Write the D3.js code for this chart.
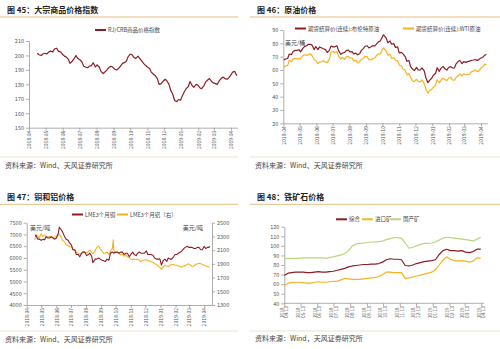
<!DOCTYPE html>
<html><head><meta charset="utf-8">
<script src="https://cdn.jsdelivr.net/npm/d3@7"></script>
<style>
body{margin:0;background:#fff;}
svg{display:block;font-family:"Noto Sans CJK SC","Noto Sans",sans-serif;}
</style></head><body>
<svg id="c" width="500" height="349"></svg>
<script>
// ---------- data ----------
const monthTicks = ["2018-04-01","2018-05-01","2018-06-01","2018-07-01","2018-08-01","2018-09-01","2018-10-01","2018-11-01","2018-12-01","2019-01-01","2019-02-01","2019-03-01","2019-04-01"];

const crbTicks = [150,160,170,180,190,200,210];
const crb = [["2018-04-16",201.5],["2018-04-19",200.5],["2018-04-23",200],["2018-04-26",201],["2018-04-30",201.5],["2018-05-03",201],["2018-05-07",202.5],["2018-05-10",203],["2018-05-14",202.5],["2018-05-17",204.5],["2018-05-21",205],["2018-05-24",203],["2018-05-28",202.5],["2018-05-31",201],["2018-06-04",199.5],["2018-06-07",199],["2018-06-11",197.5],["2018-06-14",194.5],["2018-06-18",196],["2018-06-21",197.5],["2018-06-25",200],["2018-06-28",198],["2018-07-02",197],["2018-07-05",196],["2018-07-09",192.5],["2018-07-12",192],["2018-07-16",191.5],["2018-07-19",192.5],["2018-07-23",193],["2018-07-26",195],["2018-07-30",192],["2018-08-02",193.5],["2018-08-06",192],["2018-08-09",189],["2018-08-13",187.5],["2018-08-16",188.5],["2018-08-20",190],["2018-08-23",191.5],["2018-08-27",192.5],["2018-08-30",192],["2018-09-03",190.5],["2018-09-06",190],["2018-09-10",191],["2018-09-13",192.5],["2018-09-17",194.5],["2018-09-20",195],["2018-09-24",196],["2018-09-27",199],["2018-10-01",201],["2018-10-04",200.5],["2018-10-08",198.5],["2018-10-11",198],["2018-10-15",199.5],["2018-10-18",198],["2018-10-22",196],["2018-10-25",194.5],["2018-10-29",193],["2018-11-01",192],["2018-11-05",191],["2018-11-08",188.5],["2018-11-12",187],["2018-11-15",186],["2018-11-19",184],["2018-11-22",180],["2018-11-26",180.5],["2018-11-29",182],["2018-12-03",183.5],["2018-12-06",182.5],["2018-12-10",180],["2018-12-13",176],["2018-12-17",173],["2018-12-20",169],["2018-12-24",168],["2018-12-27",169.5],["2018-12-31",169],["2019-01-03",172],["2019-01-07",175],["2019-01-10",177],["2019-01-14",178.5],["2019-01-17",182],["2019-01-21",179],["2019-01-24",178],["2019-01-28",180],["2019-01-31",179.5],["2019-02-04",177.5],["2019-02-07",177],["2019-02-11",179],["2019-02-14",181.5],["2019-02-18",183],["2019-02-21",184],["2019-02-25",182],["2019-02-28",181],["2019-03-04",180.5],["2019-03-07",180],["2019-03-11",182.5],["2019-03-14",184],["2019-03-18",185],["2019-03-21",184],["2019-03-25",183.5],["2019-03-28",184.5],["2019-04-01",186.5],["2019-04-04",188.5],["2019-04-08",189],["2019-04-10",187],["2019-04-12",186]];

const oilTicks = [20,30,40,50,60,70,80,90];
const oilDates = ["2018-04-02","2018-04-05","2018-04-09","2018-04-12","2018-04-16","2018-04-19","2018-04-23","2018-04-26","2018-04-30","2018-05-03","2018-05-07","2018-05-10","2018-05-14","2018-05-17","2018-05-21","2018-05-24","2018-05-28","2018-05-31","2018-06-04","2018-06-07","2018-06-11","2018-06-14","2018-06-18","2018-06-21","2018-06-25","2018-06-28","2018-07-02","2018-07-05","2018-07-09","2018-07-12","2018-07-16","2018-07-19","2018-07-23","2018-07-26","2018-07-30","2018-08-02","2018-08-06","2018-08-09","2018-08-13","2018-08-16","2018-08-20","2018-08-23","2018-08-27","2018-08-30","2018-09-03","2018-09-06","2018-09-10","2018-09-13","2018-09-17","2018-09-20","2018-09-24","2018-09-27","2018-10-01","2018-10-03","2018-10-08","2018-10-11","2018-10-15","2018-10-18","2018-10-22","2018-10-25","2018-10-29","2018-11-01","2018-11-05","2018-11-08","2018-11-12","2018-11-15","2018-11-19","2018-11-22","2018-11-26","2018-11-29","2018-12-03","2018-12-06","2018-12-10","2018-12-13","2018-12-17","2018-12-20","2018-12-24","2018-12-27","2018-12-31","2019-01-03","2019-01-07","2019-01-10","2019-01-14","2019-01-17","2019-01-21","2019-01-24","2019-01-28","2019-01-31","2019-02-04","2019-02-07","2019-02-11","2019-02-14","2019-02-18","2019-02-21","2019-02-25","2019-02-28","2019-03-04","2019-03-07","2019-03-11","2019-03-14","2019-03-18","2019-03-21","2019-03-25","2019-03-28","2019-04-01","2019-04-04","2019-04-08","2019-04-11"];
const brent = [67.5,68.3,68.6,72.0,71.5,73.8,74.7,74.7,75.2, 73.6,76.2,77.5,78.2,79.3,79.2,78.8,75.3,77.6, 75.3,77.3,76.5,75.9,75.3,73.1,74.7,77.9, 77.3,77.4,78.1,74.5,71.8,72.6,73.1,74.5,75.0, 73.5,73.8,72.1,72.6,71.4,72.2,74.7,76.2,77.8, 78.2,76.5,77.4,78.2,78.1,79.4,81.2,81.7, 85.0,86.3,83.9,80.3,81.8,79.3,79.8,76.9,77.3, 72.9,73.2,72.1,70.1,66.6,67.0,62.6,60.5,59.5, 62.0,60.1,60.0,61.5,59.6,54.4,50.5,52.2,53.8, 56.0,57.3,61.7,59.0,61.2,62.7,61.1,59.9,61.9, 62.5,61.6,61.5,64.6,66.5,67.1,64.8,66.3, 65.7,66.3,66.6,67.2,67.5,67.9,67.2,67.8, 69.0,69.4,71.1,71.8];
const wti = [62.0,63.0,63.4,67.1,66.2,68.3,68.6,68.2,68.6, 68.4,70.7,71.4,71.0,71.5,72.2,70.7,67.9,67.0, 64.8,66.0,66.1,66.9,65.9,65.5,68.1,73.5, 73.9,72.9,73.9,70.3,68.1,69.5,67.9,69.6,70.1, 69.0,69.0,66.8,67.2,65.5,66.4,67.8,68.9,70.3, 69.8,67.8,67.5,68.6,69.0,70.8,72.1,72.1, 75.3,76.4,74.3,71.0,71.8,68.7,69.2,67.3,67.0, 63.7,63.1,60.7,59.9,56.5,57.2,54.6,51.6,51.5, 53.0,51.5,51.0,52.6,49.9,45.9,42.5,44.6,45.4, 47.1,48.5,52.6,50.5,52.1,53.8,53.1,52.0,53.8, 54.6,52.6,52.4,54.4,55.6,57.0,55.5,57.2, 56.6,56.7,56.8,58.6,59.1,60.0,58.8,59.3, 61.6,62.1,64.4,63.6];

const copperTicks = [4000,4500,5000,5500,6000,6500,7000,7500];
const aluTicks = [1300,1500,1700,1900,2100,2300,2500];
const metalDates = ["2018-04-18","2018-04-20","2018-04-24","2018-04-27","2018-05-01","2018-05-04","2018-05-08","2018-05-11","2018-05-15","2018-05-18","2018-05-22","2018-05-25","2018-05-29","2018-06-01","2018-06-05","2018-06-07","2018-06-11","2018-06-14","2018-06-18","2018-06-21","2018-06-25","2018-06-28","2018-07-02","2018-07-05","2018-07-09","2018-07-12","2018-07-16","2018-07-19","2018-07-23","2018-07-26","2018-07-30","2018-08-02","2018-08-06","2018-08-09","2018-08-13","2018-08-15","2018-08-20","2018-08-23","2018-08-27","2018-08-30","2018-09-03","2018-09-06","2018-09-10","2018-09-13","2018-09-17","2018-09-20","2018-09-24","2018-09-26","2018-09-27","2018-10-01","2018-10-04","2018-10-08","2018-10-11","2018-10-15","2018-10-18","2018-10-22","2018-10-25","2018-10-29","2018-11-01","2018-11-05","2018-11-08","2018-11-12","2018-11-15","2018-11-19","2018-11-22","2018-11-26","2018-11-29","2018-12-03","2018-12-06","2018-12-10","2018-12-13","2018-12-17","2018-12-20","2018-12-24","2018-12-27","2018-12-31","2019-01-03","2019-01-07","2019-01-10","2019-01-14","2019-01-17","2019-01-21","2019-01-24","2019-01-28","2019-01-31","2019-02-04","2019-02-07","2019-02-11","2019-02-14","2019-02-18","2019-02-21","2019-02-25","2019-02-28","2019-03-04","2019-03-07","2019-03-11","2019-03-14","2019-03-18","2019-03-21","2019-03-25","2019-03-28","2019-04-01","2019-04-04","2019-04-08","2019-04-11","2019-04-12"];
const copper = [6950,6950,6800,6800, 6750,6790,6780,6900,6850,6850,6900,6850,6800, 6850,7050,7300,7200,7100,6900,6800,6750,6650, 6550,6350,6350,6150,6150,6050,6200,6250,6250, 6100,6150,6200,6050,5800,5950,5950,6000,5950, 5900,5880,5850,5950,5900,6200,6250,6230,6200, 6250,6250,6200,6250,6250,6150,6200,6200,6050, 6150,6250,6150,6100,6200,6250,6200,6200,6200, 6300,6150,6150,6150,6100,6000,5950,5950,5950, 5700,5900,5950,5850,6000,5950,5950,6050,6150, 6150,6200,6250,6300,6400,6450,6500,6450, 6450,6450,6400,6400,6450,6450,6350,6350, 6500,6400,6450,6450,6500];
const aluminium = [2250,2330,2300,2280, 2340,2300,2320,2290,2290,2300,2300,2280,2290, 2300,2320,2330,2290,2240,2220,2180,2170,2150, 2150,2110,2100,2070,2050,2040,2060,2080,2070, 2060,2080,2100,2060,2050,2090,2140,2160,2120, 2090,2050,2060,2070,2040,2080,2120,2250,2100, 2060,2070,2050,2030,2040,2010,2030,2000,1990, 1970,1960,1970,1960,1970,1950,1930,1950,1960, 1960,1950,1940,1930,1920,1900,1890,1870,1850, 1820,1860,1880,1870,1860,1880,1890,1890,1880, 1880,1870,1860,1850,1870,1870,1890,1900, 1880,1860,1870,1890,1900,1910,1900,1890, 1880,1870,1860,1855,1850];

const ironTicksY = [40,50,60,70,80,90,100,110,120];
const ironTicksX = ["2018-04-13","2018-05-13","2018-06-13","2018-07-13","2018-08-13","2018-09-13","2018-10-13","2018-11-13","2018-12-13","2019-01-13","2019-02-13","2019-03-13","2019-04-13"];
const ironDates = ["2018-04-13","2018-04-20","2018-04-27","2018-05-04","2018-05-11","2018-05-18","2018-05-25","2018-06-01","2018-06-08","2018-06-15","2018-06-22","2018-06-29","2018-07-06","2018-07-13","2018-07-20","2018-07-27","2018-08-03","2018-08-10","2018-08-17","2018-08-24","2018-08-31","2018-09-07","2018-09-14","2018-09-21","2018-09-28","2018-10-05","2018-10-12","2018-10-19","2018-10-26","2018-11-02","2018-11-09","2018-11-16","2018-11-23","2018-11-30","2018-12-07","2018-12-14","2018-12-21","2018-12-28","2019-01-04","2019-01-11","2019-01-18","2019-01-25","2019-02-01","2019-02-08","2019-02-15","2019-02-22","2019-03-01","2019-03-08","2019-03-15","2019-03-22","2019-03-29","2019-04-05","2019-04-12"];
const ironAll = [69,71.5,72,72.5,72.5,72.5,72,72,72.5,73,72.5,72.5,73,73.5,74.5,75.5,76.5,78,79,79.5,80,80.5,80.5,81,81,81.5,83,85.5,86.5,86,86,85.5,79.5,79,80,81.5,82.5,83.5,84,84.5,85.5,91,95,96.5,95,95,94.5,95,93.5,93,94,96.5,96.5];
const ironImport = [58.5,61,61.5,62,62,61.5,61,61,62,62.5,62,62,62.5,63,63,64.5,66,65.5,65,65,65,65.5,66,66.5,67,68,70,72.5,72.5,72,72,72,66,66.5,67.5,68.5,69.5,70.5,71.5,72.5,75,80,85,88.5,86,84.5,84,84.5,84,83,84,87.5,87];
const ironDomestic = [87,87,87,87,87,87.5,87.5,87.5,87.5,87.5,87.5,87,88,88.5,89.5,90.5,92,95,100,102,102.5,103,103.5,104,104,104.5,105,106.5,107.5,108.5,108.5,108,103,97.5,98.5,100,101.5,102.5,102.5,103,104,106,108,109,108.5,108,107.5,107,106.5,106,105,107,109];

// ---------- drawing ----------
const P = d3.timeParse("%Y-%m-%d");
const svg = d3.select("#c");
const RED = "#8c1d24", YEL = "#f5b31f", GRN = "#b8d67a", AX = "#9a9a9a", TXT = "#555";
const FONT = '"Noto Sans CJK SC","Noto Sans",sans-serif';
const numFmt = d3.format("d");

function frame(x0, x1, titleY, title, lineY, botY, srcY, src) {
  svg.append("text").attr("x", x0 + 7).attr("y", titleY).text(title)
    .attr("font-size", 8).attr("font-weight", "bold").attr("fill", "#222");
  svg.append("line").attr("x1", x0).attr("x2", x1).attr("y1", lineY).attr("y2", lineY)
    .attr("stroke", "#e3bf80").attr("stroke-width", 1);
  svg.append("line").attr("x1", x0).attr("x2", x1).attr("y1", botY).attr("y2", botY)
    .attr("stroke", "#ede2cc").attr("stroke-width", 1);
  svg.append("text").attr("x", x0 + 5).attr("y", srcY).text(src)
    .attr("font-size", 7).attr("fill", "#444");
}

function style(g, fs) {
  g.attr("font-family", FONT).attr("font-size", fs);
  g.select(".domain").attr("stroke", AX).attr("stroke-width", 0.8);
  g.selectAll(".tick line").attr("stroke", AX).attr("stroke-width", 0.8);
  g.selectAll(".tick text").attr("fill", TXT);
}

function xAxis(x, y0, ticks, fmt) {
  const g = svg.append("g").attr("transform", `translate(0,${y0})`)
    .call(d3.axisBottom(x).tickValues(ticks.map(P)).tickFormat(fmt).tickSize(3).tickSizeOuter(0));
  style(g, 5);
  g.selectAll(".tick text").attr("transform", "rotate(-90)").attr("text-anchor", "end")
    .attr("x", -3).attr("y", 0).attr("dy", "0.35em");
  return g;
}

function yAxisLeft(y, x0, ticks) {
  const g = svg.append("g").attr("transform", `translate(${x0},0)`)
    .call(d3.axisLeft(y).tickValues(ticks).tickFormat(numFmt).tickSize(3).tickPadding(2).tickSizeOuter(0));
  style(g, 5.5);
}

function legend(x, y, color, label) {
  svg.append("line").attr("x1", x).attr("x2", x + 11).attr("y1", y).attr("y2", y)
    .attr("stroke", color).attr("stroke-width", 2);
  svg.append("text").attr("x", x + 13).attr("y", y + 2).text(label)
    .attr("font-size", 5.5).attr("fill", "#444");
}

function drawLine(data, x, y, color, w) {
  svg.append("path").datum(data)
    .attr("fill", "none").attr("stroke", color).attr("stroke-width", w || 1.1)
    .attr("stroke-linejoin", "round")
    .attr("d", d3.line().x(d => x(P(d[0]))).y(d => y(d[1])));
}

const fmtM = d3.timeFormat("%Y-%m");

// Panel 1
frame(0, 238, 13, "图 45：大宗商品价格指数", 17, 157, 168, "资料来源：Wind、天风证券研究所");
{
  const x = d3.scaleTime().domain([P("2018-04-01"), P("2019-04-13")]).range([29, 237.6]);
  const y = d3.scaleLinear().domain([150, 210]).range([127.7, 41]);
  yAxisLeft(y, 29, crbTicks);
  xAxis(x, 127.7, monthTicks, fmtM);
  drawLine(crb, x, y, RED, 1.2);
  legend(95, 30, RED, "RJ/CRB商品价格指数");
}

// Panel 2
frame(250, 500, 13, "图 46：原油价格", 17, 157, 168, "资料来源：Wind、天风证券研究所");
{
  const x = d3.scaleTime().domain([P("2018-04-01"), P("2019-04-13")]).range([283.3, 487.5]);
  const y = d3.scaleLinear().domain([20, 90]).range([123.3, 30]);
  yAxisLeft(y, 283.3, oilTicks);
  xAxis(x, 123.3, monthTicks, fmtM);
  drawLine(oilDates.map((d, i) => [d, wti[i]]), x, y, YEL, 1.2);
  drawLine(oilDates.map((d, i) => [d, brent[i]]), x, y, RED, 1.2);
  legend(295, 28.5, RED, "期货结算价(连续):布伦特原油");
  legend(403, 28.5, YEL, "期货结算价(连续):WTI原油");
  svg.append("text").attr("x", 285).attr("y", 44.5).text("美元/桶").attr("font-size", 6).attr("fill", "#444");
}

// Panel 3
frame(0, 238, 200, "图 47：铜和铝价格", 204.3, 331, 342, "资料来源：Wind、天风证券研究所");
{
  const x = d3.scaleTime().domain([P("2018-04-01"), P("2019-04-17")]).range([26.7, 212]);
  const y = d3.scaleLinear().domain([4000, 7500]).range([305, 222.7]);
  const y2 = d3.scaleLinear().domain([1300, 2500]).range([305, 222.7]);
  yAxisLeft(y, 26.7, copperTicks);
  const gr = svg.append("g").attr("transform", "translate(212,0)")
    .call(d3.axisRight(y2).tickValues(aluTicks).tickFormat(numFmt).tickSize(3).tickPadding(2).tickSizeOuter(0));
  style(gr, 5.5);
  xAxis(x, 305, monthTicks, fmtM);
  drawLine(metalDates.map((d, i) => [d, aluminium[i]]), x, y2, YEL, 1.1);
  drawLine(metalDates.map((d, i) => [d, copper[i]]), x, y, RED, 1.1);
  legend(72, 214.5, RED, "LME3个月铜");
  legend(117, 214.5, YEL, "LME3个月铝（右）");
  svg.append("text").attr("x", 30).attr("y", 229.5).text("美元/吨").attr("font-size", 6).attr("fill", "#444");
  svg.append("text").attr("x", 203).attr("y", 229.5).attr("text-anchor", "end").text("美元/吨").attr("font-size", 6).attr("fill", "#444");
}

// Panel 4
frame(250, 500, 200, "图 48：铁矿石价格", 204.3, 331, 341, "资料来源：Wind，天风证券研究所");
{
  const x = d3.scaleTime().domain([P(ironTicksX[0]), P(ironTicksX[ironTicksX.length - 1])]).range([284.3, 481.3]);
  const y = d3.scaleLinear().domain([40, 120]).range([303.3, 226.7]);
  yAxisLeft(y, 284.3, ironTicksY);
  const g = svg.append("g").attr("transform", "translate(0,303.3)")
    .call(d3.axisBottom(x).tickValues(ironTicksX.map(P)).tickFormat("").tickSize(3).tickSizeOuter(0));
  style(g, 4.6);
  g.select(".domain").attr("d", "M284.3,0H484");
  const f1 = d3.timeFormat("%Y-"), f2 = d3.timeFormat("%m-%d");
  g.selectAll(".tick").each(function(d) {
    const t = d3.select(this).append("text").attr("transform", "rotate(-90)")
      .attr("text-anchor", "end").attr("fill", TXT).attr("font-size", 4.6);
    t.append("tspan").attr("x", -3).attr("y", -1.2).text(f1(d));
    t.append("tspan").attr("x", -3).attr("y", 3.6).text(f2(d));
  });
  drawLine(ironDates.map((d, i) => [d, ironDomestic[i]]), x, y, GRN, 1.2);
  drawLine(ironDates.map((d, i) => [d, ironImport[i]]), x, y, YEL, 1.2);
  drawLine(ironDates.map((d, i) => [d, ironAll[i]]), x, y, RED, 1.2);
  legend(336, 219.3, RED, "综合");
  legend(362, 219.3, YEL, "进口矿");
  legend(390, 219.3, GRN, "国产矿");
}
</script>
</body></html>
